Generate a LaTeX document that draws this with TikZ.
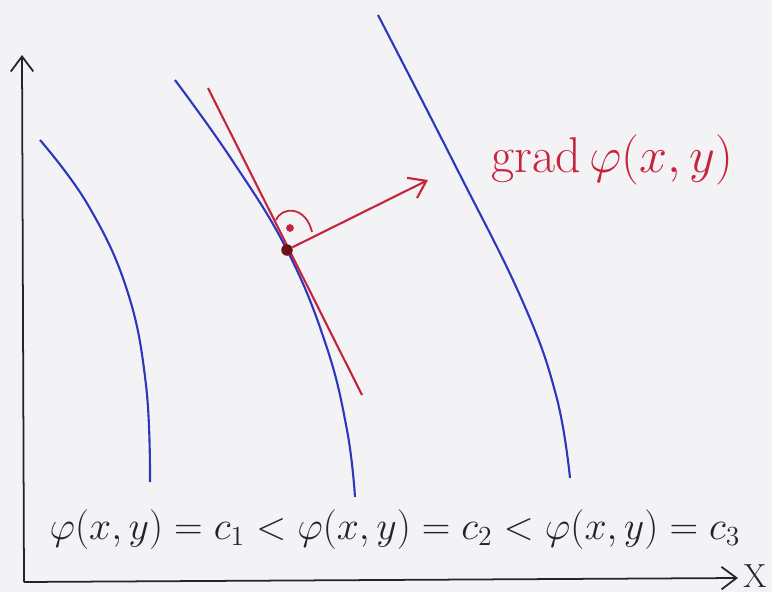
\documentclass[tikz,border=0pt]{standalone}
\usetikzlibrary{positioning,arrows.meta}
\definecolor{PaperGrey}{RGB}{243,243,245}
\definecolor{InkBlue}{RGB}{45,55,190}
\definecolor{InkRed}{RGB}{200,35,60}
\definecolor{DotRed}{RGB}{105,20,20}
\definecolor{InkBlack}{RGB}{35,35,40}
\tikzset{
  axisline/.style={-{Straight Barb[length=3mm,width=4.5mm]},line width=1pt,draw=InkBlack},
  levelline/.style={line width=1.2pt,draw=InkBlue},
  tangentline/.style={line width=1.2pt,draw=InkRed},
  gradarrow/.style={-{Straight Barb[length=3.2mm,width=4.5mm]},line width=1.2pt,draw=InkRed},
  anglemark/.style={line width=1pt,draw=InkRed},
  contactdot/.style={circle,fill=DotRed,inner sep=0pt,minimum size=2.3mm},
  gradlabel/.style={text=InkRed,font=\fontsize{24.88}{30}\selectfont,scale=1.15,anchor=center},
  levellabel/.style={text=InkBlack,font=\fontsize{20.74}{25}\selectfont,scale=1.09,anchor=center},
  axislabel/.style={text=InkBlack,font=\fontsize{19}{23}\selectfont,anchor=center,inner sep=0pt}
}
\begin{document}
\begin{tikzpicture}[x=0.02cm,y=-0.02cm]
  \fill[PaperGrey] (0,0) rectangle (772,592);
  \useasboundingbox (0,0) rectangle (772,592);
  % axes
  \coordinate (origin) at (24,582);
  \coordinate (yend) at (22,55);
  \coordinate (xend) at (738,578);
  \draw[axisline] (origin) -- (yend);
  \draw[axisline] (origin) -- (xend);
  \node[axislabel] (xlbl) at (755,576) {X};
  % level curves
  \draw[levelline] plot[smooth,tension=0.7] coordinates
    {(40,140) (88,205) (127,290) (146,385) (150,482)};
  \draw[levelline] plot[smooth,tension=0.7] coordinates
    {(175,80) (232,160) (287,250) (326,345) (347,430) (355,497)};
  \draw[levelline] plot[smooth,tension=0.7] coordinates
    {(378,15) (455,165) (522,300) (556,395) (570,478)};
  % tangent and gradient
  \coordinate (ttop) at (208,88);
  \coordinate (tbot) at (362,395);
  \draw[tangentline] (ttop) -- (tbot);
  \node[contactdot] (P) at (287,250) {};
  \coordinate (gradtip) at (428,180);
  \draw[gradarrow] (P) -- (gradtip);
  \draw[anglemark] (276,220) .. controls (282,206) and (306,206) .. (312,232);
  \fill[InkRed] (290,228) circle (2.2pt);
  \node[gradlabel] (gradlbl) at (612,160) {grad\,$\varphi(x,y)$};
  % level values
  \node[levellabel] (levels) at (395,530)
    {$\varphi(x,y)=c_1<\varphi(x,y)=c_2<\varphi(x,y)=c_3$};
\end{tikzpicture}
\end{document}
